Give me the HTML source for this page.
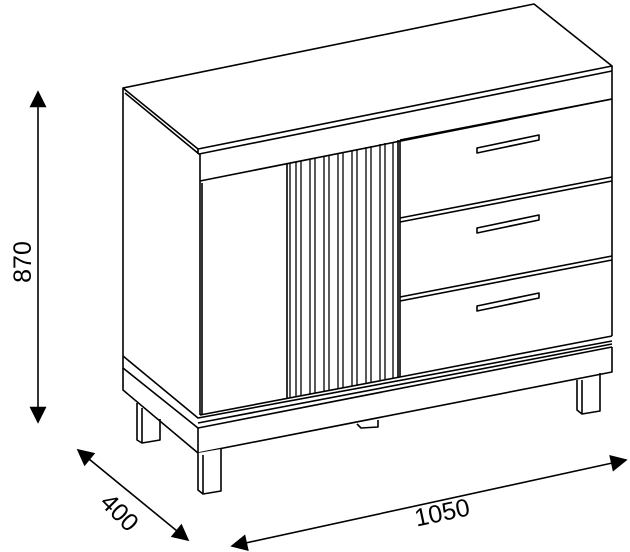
<!DOCTYPE html>
<html><head><meta charset="utf-8"><style>
html,body{margin:0;padding:0;background:#fff;}
svg{display:block;}
text{font-family:"Liberation Sans",sans-serif;fill:#000;}
</style></head><body>
<svg width="630" height="552" viewBox="0 0 630 552" xmlns="http://www.w3.org/2000/svg">
<defs>
<marker id="ah" viewBox="0 0 10 10" refX="9" refY="5" markerWidth="19" markerHeight="17" markerUnits="userSpaceOnUse" orient="auto-start-reverse">
<path d="M0,0 L10,5 L0,10 z" fill="#000"/></marker>
</defs>
<g fill="none" stroke="#000" stroke-width="1.6" stroke-linejoin="round">
<path d="M123,88 L534,4 L612,66 L198,149 Z" fill="#fff"/>
<path d="M125,93 L199,154 L612,71"/>
<path d="M198,149 L198,154"/>
<path d="M200,154 L200,181 L612,99"/>
<path d="M612,66 L612,336"/>
<path d="M123,88 L123,356"/>
<path d="M200,181 L200,415"/>
<path d="M202,183 L202,415"/>
<path d="M287,164 L287,398"/>
<path d="M398,140 L398,377"/>
<path d="M400,140 L400,377"/>
<g stroke-width="1.3">
<path d="M290,163 L290,398 M296,162 L296,397 M301,161 L301,396 M310,159 L310,394 M315,158 L315,393 M324,156 L324,391 M329,155 L329,390 M338,153 L338,389 M343,152 L343,388 M352,150 L352,386 M357,149 L357,385 M366,147 L366,383 M371,146 L371,382 M380,144 L380,380 M385,143 L385,379 M393,142 L393,378"/>
</g>
<path d="M400,140 L612,99"/>
<path d="M400,218 L612,177 M400,222 L612,181"/>
<path d="M400,297 L612,256 M400,301 L612,260"/>
<path d="M400,377 L612,336"/>
<path d="M200,415 L400,377"/>
<g fill="#fff">
<path d="M477,148 L539,135 L539,140 L477,153 Z"/>
<path d="M477,228 L539,215 L539,220 L477,233 Z"/>
<path d="M477,306 L539,293 L539,298 L477,311 Z"/>
</g>
<path d="M123,356 L198,418 L612,341"/>
<path d="M123,356 L123,368 L198,428 L612,347"/>
<path d="M198,423 L612,344"/>
<path d="M123,368 L123,390 L198,453 L612,372 L612,347"/>
<path d="M198,428 L198,453"/>
<path d="M198,453 L198,490 L203,494 L221,491 L221,449" fill="#fff"/>
<path d="M203,455 L203,494"/>
<path d="M137,403 L137,440 L142,443 L160,440 L160,419"/>
<path d="M142,408 L142,443"/>
<path d="M577,380 L577,410 L582,414 L600,411 L600,373"/>
<path d="M582,380 L582,414"/>
<path d="M357,424 L361,428 L378,427 L378,420"/>
<path d="M38,92 L38,422" marker-start="url(#ah)" marker-end="url(#ah)"/>
<path d="M78,450 L188,540" marker-start="url(#ah)" marker-end="url(#ah)"/>
<path d="M232,546 L626,460" marker-start="url(#ah)" marker-end="url(#ah)"/>
</g>
<text x="22" y="262" font-size="25" text-anchor="middle" transform="rotate(-90 22 262)" dy="9">870</text>
<text x="120" y="512" font-size="25" text-anchor="middle" transform="rotate(45 120 512)" dy="9">400</text>
<text x="442" y="512" font-size="25" text-anchor="middle" transform="rotate(-12 442 512)" dy="9">1050</text>
</svg>
</body></html>
